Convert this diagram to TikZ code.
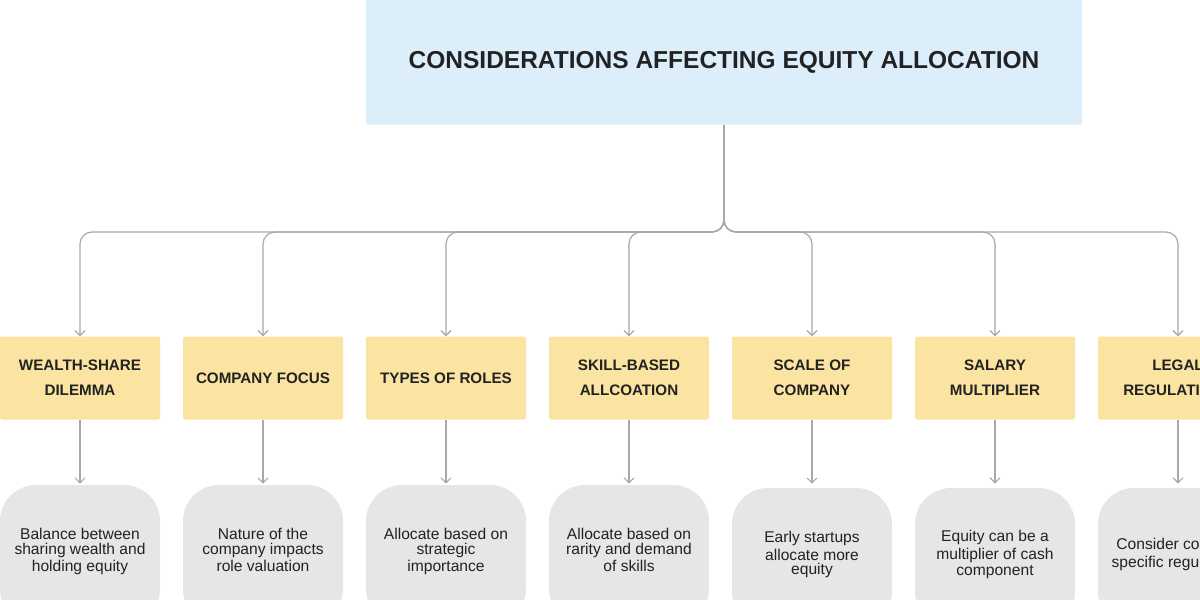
\documentclass[tikz,border=0pt]{standalone}
\usepackage{fontspec}
\setmainfont{Liberation Sans}
\usetikzlibrary{arrows.meta}
\definecolor{titlebg}{HTML}{DDEEFB}
\definecolor{catbg}{HTML}{FBE3A2}
\definecolor{descbg}{HTML}{E6E6E6}
\definecolor{linkgray}{HTML}{A8A8A8}
\definecolor{inkdark}{HTML}{222222}
\begin{document}
\begin{tikzpicture}[x=1pt,y=-1pt,
	every node/.style={text=inkdark, inner sep=2pt, align=center},
	titlebox/.style={fill=titlebg, rounded corners=2pt, minimum width=716pt, minimum height=125pt, font=\bfseries\fontsize{24.5}{29}\selectfont},
	catbox/.style={fill=catbg, rounded corners=2pt, minimum width=160pt, minimum height=83pt, font=\bfseries\fontsize{15.2}{25}\selectfont},
	descbox/.style={fill=descbg, rounded corners=36pt, minimum width=160pt, minimum height=140pt, font=\fontsize{15.6}{25}\selectfont},
	link/.style={draw=linkgray, line width=1.2pt, -{Straight Barb[length=5pt,width=10pt]}}]
	\useasboundingbox (0,0) rectangle (1200,600);
	\clip (0,0) rectangle (1200,600);
	\node[titlebox] (title) at (724,62) {\raisebox{-3pt}{CONSIDERATIONS AFFECTING EQUITY ALLOCATION}};
	\coordinate (hub) at (724,232);
	\draw[draw=linkgray, line width=1.2pt] (title.south) -- (724,215);
	% categories
	\node[catbox] (c1) at (80,378) {WEALTH-SHARE\\DILEMMA};
	\node[catbox] (c2) at (263,378) {COMPANY FOCUS};
	\node[catbox] (c3) at (446,378) {TYPES OF ROLES};
	\node[catbox] (c4) at (629,378) {SKILL-BASED\\ALLCOATION};
	\node[catbox] (c5) at (812,378) {SCALE OF\\COMPANY};
	\node[catbox] (c6) at (995,378) {SALARY\\MULTIPLIER};
	\node[catbox] (c7) at (1178,378) {LEGAL\\REGULATIONS};
	% descriptions
	\node[descbox] (d1) at (80,555) {\raisebox{10pt}{\shortstack{Balance between\\sharing wealth and\\holding equity}}};
	\node[descbox] (d2) at (263,555) {\raisebox{10pt}{\shortstack{Nature of the\\company impacts\\role valuation}}};
	\node[descbox] (d3) at (446,555) {\raisebox{10pt}{\shortstack{Allocate based on\\strategic\\importance}}};
	\node[descbox] (d4) at (629,555) {\raisebox{10pt}{\shortstack{Allocate based on\\rarity and demand\\of skills}}};
	\node[descbox] (d5) at (812,558) {\raisebox{10pt}{\shortstack{Early startups\\allocate more\\equity}}};
	\node[descbox] (d6) at (995,558) {\raisebox{10pt}{\shortstack{Equity can be a\\multiplier of cash\\component}}};
	\node[descbox] (d7) at (1178,558) {\raisebox{10pt}{\shortstack{Consider country-\\specific regulations}}};
	\foreach \i in {1,...,7}{
		\draw[link, rounded corners=12pt] (724,215) |- (hub) -| (c\i.north);
		\draw[link] (c\i.south) -- ++(0,64);
	}
\end{tikzpicture}
\end{document}
